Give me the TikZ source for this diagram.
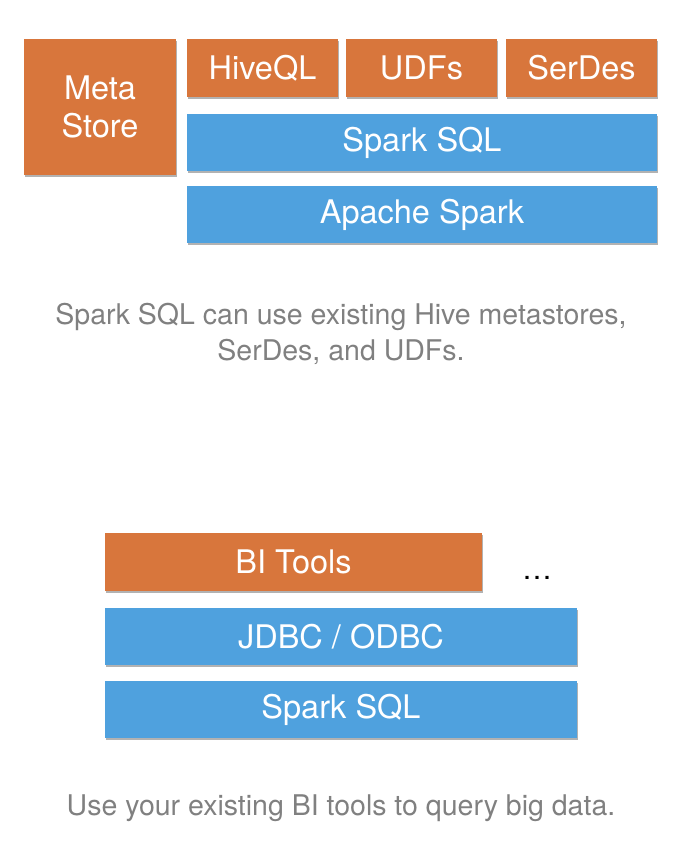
\documentclass[tikz,border=0pt]{standalone}
\usepackage{fontspec}
\setmainfont{TeX Gyre Heros}
\usepackage{tikz}
\usetikzlibrary{shadows}

\definecolor{layerorange}{RGB}{216,118,60}
\definecolor{layerblue}{RGB}{79,161,222}
\definecolor{captiongray}{RGB}{128,128,128}

\begin{document}
\begin{tikzpicture}[x=1pt, y=-1pt,
	layer/.style={inner sep=0pt, text=white, font=\fontsize{32.5}{38}\selectfont,
		drop shadow={shadow xshift=0.8pt, shadow yshift=-1.6pt, opacity=0.3, fill=black}},
	orangelayer/.style={layer, fill=layerorange},
	bluelayer/.style={layer, fill=layerblue},
	caption/.style={text=captiongray, align=center, font=\fontsize{28.5}{36}\selectfont}]
	\useasboundingbox (0,0) rectangle (700,848);

	% Hive stack
	\node [orangelayer, minimum width=152pt, minimum height=136pt, align=center] (meta) at (100,107) {Meta\\Store};
	\node [orangelayer, minimum width=151pt, minimum height=58pt] (hiveql) at (262.5,68) {HiveQL};
	\node [orangelayer, minimum width=151pt, minimum height=58pt] (udfs) at (421.5,68) {UDFs};
	\node [orangelayer, minimum width=151pt, minimum height=58pt] (serdes) at (581.5,68) {SerDes};
	\node [bluelayer, minimum width=470pt, minimum height=57pt] (sparksql) at (422,142.5) {Spark SQL};
	\node [bluelayer, minimum width=470pt, minimum height=57pt] (apache) at (422,214.5) {Apache Spark};
	\node [caption] (hivecaption) at (341,334) {Spark SQL can use existing Hive metastores,\\SerDes, and UDFs.};

	% BI stack
	\node [orangelayer, minimum width=377pt, minimum height=58pt] (bitools) at (293.5,562) {BI Tools};
	\node [font=\fontsize{30}{34}\selectfont] (more) at (537,578) {\dots};
	\node [bluelayer, minimum width=472pt, minimum height=57pt] (jdbc) at (341,636.5) {JDBC / ODBC};
	\node [bluelayer, minimum width=472pt, minimum height=57pt] (bisql) at (341,709.5) {Spark SQL};
	\node [caption] (bicaption) at (341,808) {Use your existing BI tools to query big data.};
\end{tikzpicture}
\end{document}
